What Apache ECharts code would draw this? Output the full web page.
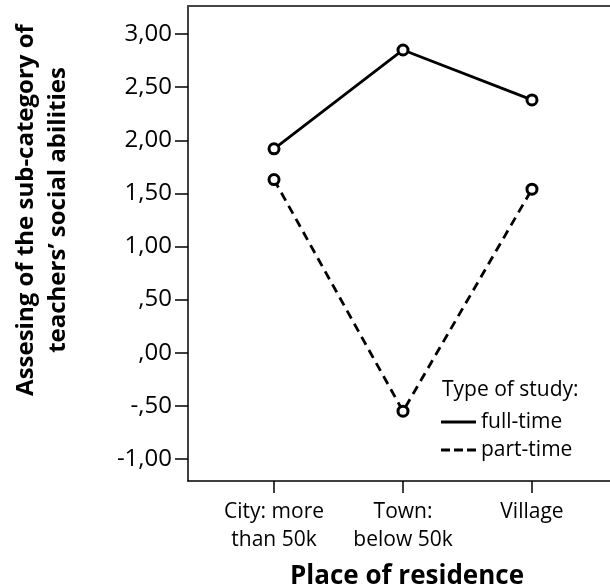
<!DOCTYPE html>
<html>
<head>
<meta charset="utf-8">
<script src="https://cdn.jsdelivr.net/npm/echarts@6/dist/echarts.min.js"></script>
<style>html,body{margin:0;padding:0;background:#fff}#c{width:610px;height:588px}</style>
</head>
<body>
<div id="c"></div>
<script>
var categories = ['City: more\nthan 50k', 'Town:\nbelow 50k', 'Village'];
var fullTime = [1.92, 2.85, 2.38];
var partTime = [1.63, -0.55, 1.54];
var yTickValues = [-1, -0.5, 0, 0.5, 1, 1.5, 2, 2.5, 3];
var yTickLabels = ['-1,00', '-,50', ',00', ',50', '1,00', '1,50', '2,00', '2,50', '3,00'];
var seriesNames = ['full-time', 'part-time'];
var legendTitle = 'Type of study:';
var xTitle = 'Place of residence';
var yTitle = 'Assesing of the sub-category of\nteachers\u2019 social abilities';

var FONT = 'Open Sans';
var chart = echarts.init(document.getElementById('c'), null, {renderer: 'canvas'});
function pts(arr) { return arr.map(function (v, i) { return [i, v]; }); }
var xIdx = categories.map(function (c, i) { return i; });

var option = {
  animation: false,
  backgroundColor: '#fff',
  textStyle: {fontFamily: FONT, color: '#000'},
  grid: {left: 188, right: 0, top: 6, bottom: 107, containLabel: false},
  title: [
    {text: legendTitle, left: 442, top: 380, padding: 0,
     textStyle: {fontFamily: FONT, fontSize: 21, fontWeight: 'normal', color: '#000'}},
    {text: xTitle, left: 407, top: 564, textAlign: 'center', padding: 0,
     textStyle: {fontFamily: FONT, fontSize: 26, fontWeight: 'bold', color: '#000'}}
  ],
  graphic: [{
    type: 'text', x: 42, y: 210, rotation: Math.PI / 2,
    style: {text: yTitle, fontFamily: FONT, fontSize: 24, fontWeight: 'bold', fill: '#000',
            align: 'center', verticalAlign: 'middle', lineHeight: 32}
  }],
  legend: {
    orient: 'vertical', left: 441, top: 410, padding: 0, itemGap: 4,
    itemWidth: 35, itemHeight: 3,
    textStyle: {fontFamily: FONT, fontSize: 21, color: '#000', lineHeight: 24},
    data: [
      {name: seriesNames[0], icon: 'rect', itemStyle: {color: '#000', borderWidth: 0}},
      {name: seriesNames[1], icon: 'path://M0 0H9V3H0Z M13 0H22V3H13Z M26 0H35V3H26Z', itemStyle: {color: '#000', borderWidth: 0}}
    ]
  },
  xAxis: [{
    type: 'value', min: -0.667, max: 2.605, position: 'bottom',
    splitLine: {show: false},
    axisLine: {show: true, onZero: false, lineStyle: {color: '#000', width: 1.5}},
    axisTick: {show: true, length: 12, customValues: xIdx, lineStyle: {color: '#000', width: 1.5}},
    axisLabel: {customValues: xIdx, margin: 17, fontFamily: FONT, fontSize: 21, color: '#000', lineHeight: 28,
      formatter: function (v) { return categories[Math.round(v)]; }}
  }, {
    type: 'value', min: -0.667, max: 2.605, position: 'top',
    splitLine: {show: false}, axisTick: {show: false}, axisLabel: {show: false},
    axisLine: {show: true, onZero: false, lineStyle: {color: '#444', width: 2}}
  }],
  yAxis: {
    type: 'value', min: -1.207, max: 3.264,
    splitLine: {show: false},
    axisLine: {show: true, onZero: false, lineStyle: {color: '#000', width: 1.5}},
    axisTick: {show: true, length: 13, customValues: yTickValues, lineStyle: {color: '#000', width: 1.5}},
    axisLabel: {customValues: yTickValues, margin: 16, fontFamily: FONT, fontSize: 24, color: '#000',
      formatter: function (v) {
        for (var i = 0; i < yTickValues.length; i++) if (Math.abs(yTickValues[i] - v) < 1e-6) return yTickLabels[i];
        return '';
      }}
  },
  series: [{
    name: seriesNames[0], type: 'line', data: pts(fullTime),
    symbol: 'circle', symbolSize: 10, z: 3,
    itemStyle: {color: '#fff', borderColor: '#000', borderWidth: 3},
    lineStyle: {color: '#000', width: 2.8, type: 'solid'}
  }, {
    name: seriesNames[1], type: 'line', data: pts(partTime),
    symbol: 'circle', symbolSize: 10, z: 3,
    itemStyle: {color: '#fff', borderColor: '#000', borderWidth: 3},
    lineStyle: {color: '#000', width: 2.8, type: [9, 6]}
  }]
};
chart.setOption(option);
</script>
</body>
</html>
